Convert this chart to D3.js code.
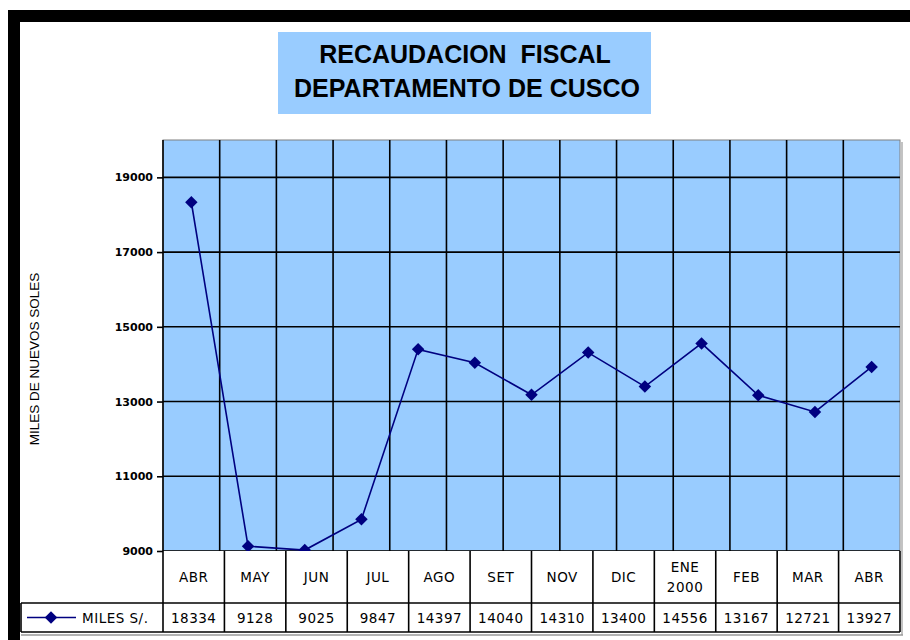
<!DOCTYPE html>
<html>
<head>
<meta charset="utf-8">
<script src="https://cdn.jsdelivr.net/npm/d3@7"></script>
<style>
  body { margin: 0; background: #fff; }
  svg { display: block; }
</style>
</head>
<body>
<div id="chart"></div>
<script>
// plotted months (OCT is drawn but hidden in the data table)
var months = ["ABR", "MAY", "JUN", "JUL", "AGO", "SET", "OCT", "NOV", "DIC", "ENE", "FEB", "MAR", "ABR2"];
var values = [18334, 9128, 9025, 9847, 14397, 14040, 13180, 14310, 13400, 14556, 13167, 12721, 13927];

// data table below the chart
var tableLabels = [["ABR"], ["MAY"], ["JUN"], ["JUL"], ["AGO"], ["SET"], ["NOV"], ["DIC"], ["ENE", "2000"], ["FEB"], ["MAR"], ["ABR"]];
var tableValues = [18334, 9128, 9025, 9847, 14397, 14040, 14310, 13400, 14556, 13167, 12721, 13927];

var yTicks = [9000, 11000, 13000, 15000, 17000, 19000];
var seriesName = "MILES S/.";

var W = 910, H = 640;
var plot = {left: 163, right: 900, top: 140, bottom: 551};
var row1 = {top: 551, bottom: 603};
var row2 = {top: 603, bottom: 632};
var legendLeft = 21;

var svg = d3.select("#chart").append("svg")
    .attr("width", W)
    .attr("height", H);

// black frame
svg.append("rect").attr("x", 8).attr("y", 10).attr("width", W - 8).attr("height", 12).attr("fill", "#000");
svg.append("rect").attr("x", 8).attr("y", 10).attr("width", 12).attr("height", H - 10).attr("fill", "#000");

// title box
svg.append("rect")
    .attr("x", 278).attr("y", 32)
    .attr("width", 373).attr("height", 82)
    .attr("fill", "#99ccff");

var title = svg.append("text")
    .attr("text-anchor", "middle")
    .style("font-family", "'Liberation Sans', Arial, sans-serif")
    .style("font-weight", "bold")
    .style("font-size", "25px")
    .attr("fill", "#000");
title.append("tspan").attr("x", 465).attr("y", 63).text("RECAUDACION  FISCAL").style("white-space", "pre");
title.append("tspan").attr("x", 467).attr("y", 97).text("DEPARTAMENTO DE CUSCO");

// scales
var x = d3.scaleBand().domain(months).range([plot.left, plot.right]).padding(0);
var y = d3.scaleLinear().domain([9000, 20000]).range([plot.bottom, plot.top]);
var xt = d3.scaleBand().domain(d3.range(tableLabels.length)).range([plot.left, plot.right]).padding(0);

// plot background
svg.append("rect")
    .attr("x", plot.left).attr("y", plot.top)
    .attr("width", plot.right - plot.left).attr("height", plot.bottom - plot.top)
    .attr("fill", "#99ccff")
    .attr("stroke", "#808080")
    .attr("stroke-width", 1);

// horizontal gridlines
svg.append("g").selectAll("line")
    .data(yTicks.filter(function(d) { return d > 9000; }))
    .enter().append("line")
    .attr("x1", plot.left).attr("x2", plot.right)
    .attr("y1", function(d) { return y(d); })
    .attr("y2", function(d) { return y(d); })
    .attr("stroke", "#000")
    .attr("stroke-width", 1.6);

// vertical gridlines
svg.append("g").selectAll("line")
    .data(months.slice(1))
    .enter().append("line")
    .attr("x1", function(d) { return x(d); })
    .attr("x2", function(d) { return x(d); })
    .attr("y1", plot.top).attr("y2", plot.bottom)
    .attr("stroke", "#000")
    .attr("stroke-width", 1.6);

// y axis
var yAxis = d3.axisLeft(y).tickValues(yTicks).tickSize(6).tickPadding(4).tickFormat(d3.format("d"));
var gy = svg.append("g")
    .attr("transform", "translate(" + plot.left + ",0)")
    .call(yAxis);
gy.select(".domain").attr("stroke", "#000").attr("stroke-width", 1.6)
    .attr("d", "M0," + plot.top + "V" + plot.bottom);
gy.selectAll(".tick line").attr("stroke", "#000").attr("stroke-width", 1.6);
gy.selectAll(".tick text")
    .style("font-family", "'DejaVu Sans', Verdana, sans-serif")
    .style("font-weight", "bold")
    .style("font-size", "11px")
    .attr("fill", "#000");

svg.append("text")
    .attr("transform", "rotate(-90)")
    .attr("x", -359)
    .attr("y", 39)
    .style("text-anchor", "middle")
    .style("font-family", "'Liberation Sans', Arial, sans-serif")
    .style("font-size", "13.5px")
    .text("MILES DE NUEVOS SOLES");

// x axis line
svg.append("line")
    .attr("x1", plot.left).attr("x2", plot.right)
    .attr("y1", plot.bottom).attr("y2", plot.bottom)
    .attr("stroke", "#000").attr("stroke-width", 1.6);

// data line
var line = d3.line()
    .x(function(d, i) { return x(months[i]) + x.bandwidth() / 2; })
    .y(function(d) { return y(d); });

svg.append("path")
    .datum(values)
    .attr("d", line)
    .attr("fill", "none")
    .attr("stroke", "#000080")
    .attr("stroke-width", 1.6);

var diamond = d3.symbol().type(d3.symbolSquare).size(78);
svg.append("g").selectAll("path")
    .data(values)
    .enter().append("path")
    .attr("d", diamond)
    .attr("transform", function(d, i) {
        return "translate(" + (x(months[i]) + x.bandwidth() / 2) + "," + y(d) + ") rotate(45)";
    })
    .attr("fill", "#000080");

// data table
var tbl = svg.append("g");
var tableFont = "'DejaVu Sans', Verdana, sans-serif";

tbl.append("rect")
    .attr("x", plot.left).attr("y", row1.top)
    .attr("width", plot.right - plot.left).attr("height", row1.bottom - row1.top)
    .attr("fill", "#fff");
tbl.append("rect")
    .attr("x", legendLeft).attr("y", row2.top)
    .attr("width", plot.right - legendLeft).attr("height", row2.bottom - row2.top)
    .attr("fill", "#fff");

// horizontal table lines
tbl.append("line").attr("x1", legendLeft).attr("x2", plot.right)
    .attr("y1", row2.top).attr("y2", row2.top)
    .attr("stroke", "#000").attr("stroke-width", 1.6);
tbl.append("line").attr("x1", legendLeft).attr("x2", plot.right)
    .attr("y1", row2.bottom).attr("y2", row2.bottom)
    .attr("stroke", "#000").attr("stroke-width", 1.6);
tbl.append("line").attr("x1", legendLeft).attr("x2", plot.right + 3)
    .attr("y1", row2.bottom + 3).attr("y2", row2.bottom + 3)
    .attr("stroke", "#9a9a9a").attr("stroke-width", 1.5);

// vertical table lines
tbl.selectAll(".vcol")
    .data(d3.range(tableLabels.length + 1))
    .enter().append("line")
    .attr("class", "vcol")
    .attr("x1", function(i) { return i < tableLabels.length ? xt(i) : plot.right; })
    .attr("x2", function(i) { return i < tableLabels.length ? xt(i) : plot.right; })
    .attr("y1", row1.top).attr("y2", row2.bottom)
    .attr("stroke", "#000").attr("stroke-width", 1.6);
tbl.append("line").attr("x1", legendLeft).attr("x2", legendLeft)
    .attr("y1", row2.top).attr("y2", row2.bottom)
    .attr("stroke", "#000").attr("stroke-width", 1.6);
tbl.append("line").attr("x1", plot.right + 2).attr("x2", plot.right + 2)
    .attr("y1", plot.top + 2).attr("y2", row2.bottom + 3)
    .attr("stroke", "#9a9a9a").attr("stroke-width", 1.2);

// header labels
var hdr = tbl.selectAll(".hdr")
    .data(tableLabels)
    .enter().append("text")
    .attr("class", "hdr")
    .attr("text-anchor", "middle")
    .style("font-family", tableFont)
    .style("font-size", "13.5px")
    .style("letter-spacing", "0.5px")
    .attr("fill", "#000");
hdr.each(function(lines, i) {
    var cx = xt(i) + xt.bandwidth() / 2;
    var mid = (row1.top + row1.bottom) / 2;
    var start = mid + 5 - (lines.length - 1) * 10;
    d3.select(this).selectAll("tspan")
        .data(lines)
        .enter().append("tspan")
        .attr("x", cx)
        .attr("y", function(d, j) { return start + j * 20; })
        .text(function(d) { return d; });
});

// value cells
tbl.selectAll(".val")
    .data(tableValues)
    .enter().append("text")
    .attr("class", "val")
    .attr("x", function(d, i) { return xt(i) + xt.bandwidth() / 2; })
    .attr("y", (row2.top + row2.bottom) / 2 + 5)
    .attr("text-anchor", "middle")
    .style("font-family", tableFont)
    .style("font-size", "13.5px")
    .style("letter-spacing", "0.5px")
    .attr("fill", "#000")
    .text(function(d) { return d; });

// legend key
var ly = (row2.top + row2.bottom) / 2;
tbl.append("line")
    .attr("x1", 27).attr("x2", 76)
    .attr("y1", ly).attr("y2", ly)
    .attr("stroke", "#000080").attr("stroke-width", 1.6);
tbl.append("path")
    .attr("d", diamond)
    .attr("transform", "translate(51," + ly + ") rotate(45)")
    .attr("fill", "#000080");
tbl.append("text")
    .attr("x", 82)
    .attr("y", ly + 5)
    .style("font-family", tableFont)
    .style("font-size", "13.5px")
    .style("letter-spacing", "0.5px")
    .text(seriesName);
</script>
</body>
</html>
